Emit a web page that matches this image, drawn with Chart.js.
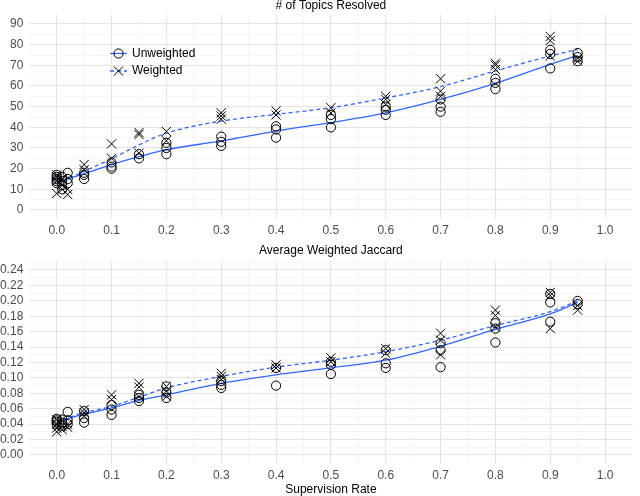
<!DOCTYPE html>
<html><head><meta charset="utf-8">
<script src="https://cdn.jsdelivr.net/npm/chart.js@4/dist/chart.umd.min.js"></script>
<style>
html,body{margin:0;padding:0;background:#fff;}
#wrap{position:relative;width:640px;height:496px;overflow:hidden;}
.c{position:absolute;left:0;width:640px;}
</style></head><body>
<div id="wrap">
<div class="c" style="top:0;height:240px"><canvas id="topChart"></canvas></div>
<div class="c" style="top:240px;height:256px"><canvas id="botChart"></canvas></div>
</div>
<script>
// ---- data ----
const rates = [0, 0.01, 0.02, 0.05, 0.1, 0.15, 0.2, 0.3, 0.4, 0.5, 0.6, 0.7, 0.8, 0.9, 0.95];
const topicsUnweighted = [[13,14,15,16,17],[10,12,14,16],[13,15,18],[15,17,18],[20,21,23],[25,27],[27,30,32.5],[31,33,35.5],[35,39,40.5],[40,44,46],[46,48.5,50],[47.5,50,53.5],[58.5,61.5,63.5],[68.5,75.5,77.5],[72,74,76]];
const topicsWeighted = [[8,14,16,17],[10,12,15],[7.5,10],[19.5,22],[25,32],[27.5,36.5,37.5],[33.5,38],[44,45.5,47],[46,48],[47,49.5],[51,53.5,55],[55,57.5,63.5],[68,70,71],[74.5,82,84],[72,73.5]];
const jaccUnweighted = [[0.040,0.043,0.045,0.047],[0.038,0.042,0.046],[0.040,0.045,0.056],[0.042,0.048,0.057],[0.052,0.059,0.065],[0.070,0.074,0.078],[0.074,0.081,0.089],[0.087,0.091,0.096],[0.090,0.113],[0.105,0.117,0.121],[0.113,0.119,0.136],[0.114,0.136,0.145],[0.146,0.164,0.171],[0.173,0.198,0.209],[0.196,0.200]];
const jaccWeighted = [[0.030,0.035,0.040,0.046],[0.033,0.037],[0.036,0.040],[0.051,0.055,0.059],[0.072,0.078],[0.076,0.088,0.093],[0.076,0.083,0.089],[0.098,0.102,0.106],[0.113,0.117],[0.121,0.126],[0.132,0.138],[0.130,0.149,0.158],[0.166,0.181,0.188],[0.164,0.207,0.211],[0.188,0.194]];
const fitRates = [0, 0.05, 0.1, 0.15, 0.2, 0.3, 0.4, 0.5, 0.6, 0.7, 0.8, 0.9, 0.95];
const topicsFitUnweighted = [13.5, 17.5, 22, 25.8, 29.2, 33.4, 38.2, 42.3, 47, 53.5, 61.3, 70.5, 74.8];
const topicsFitWeighted = [12.5, 18.7, 24.8, 31.5, 37.2, 43, 46.3, 49.5, 54.2, 59.7, 67.3, 74.5, 77.7];
const jaccFitUnweighted = [0.043, 0.053, 0.061, 0.071, 0.078, 0.093, 0.104, 0.113, 0.123, 0.141, 0.163, 0.183, 0.198];
const jaccFitWeighted = [0.043, 0.055, 0.063, 0.075, 0.087, 0.102, 0.114, 0.123, 0.134, 0.149, 0.168, 0.186, 0.200];
const seriesNames = ['Unweighted', 'Weighted'];
const titles = ['# of Topics Resolved', 'Average Weighted Jaccard', 'Supervision Rate'];

// ---- helpers ----
const FONT = "'Liberation Sans', Arial, Helvetica, sans-serif";
Chart.defaults.font.family = FONT;
Chart.defaults.font.size = 12;
const BLUE = '#3366FF';

function pts(groups) {
  const out = [];
  groups.forEach((g, i) => g.forEach(v => out.push({x: rates[i], y: v})));
  return out;
}
function fit(ys) { return fitRates.map((x, i) => ({x: x, y: ys[i]})); }
function range(a, b, step, dec) {
  const out = []; const n = Math.round((b - a) / step);
  for (let k = 0; k <= n; k++) out.push({value: +(a + k * step).toFixed(dec)});
  return out;
}
function isMult(v, m) { return Math.abs(v / m - Math.round(v / m)) < 1e-6; }
function noPad(s) { s.paddingLeft = 0; s.paddingRight = 0; s.paddingTop = 0; s.paddingBottom = 0; }

const annot = {
  id: 'annot',
  afterDraw(chart, args, o) {
    const ctx = chart.ctx, ca = chart.chartArea;
    const cx = (ca.left + ca.right) / 2;
    ctx.save();
    ctx.fillStyle = '#000';
    ctx.font = '12px ' + FONT;
    ctx.textAlign = 'center';
    ctx.textBaseline = 'middle';
    ctx.fillText(o.title, cx, o.titleY);
    if (o.xTitle) ctx.fillText(o.xTitle, cx, o.xTitleY);
    if (o.legend) {
      const rows = [{y: 53.5, dash: [], style: 'circle', label: chart.data.datasets[2].label},
                    {y: 71, dash: [4, 3], style: 'cross', label: chart.data.datasets[3].label}];
      rows.forEach(r => {
        ctx.strokeStyle = BLUE; ctx.lineWidth = 1.3; ctx.setLineDash(r.dash);
        ctx.beginPath(); ctx.moveTo(110, r.y); ctx.lineTo(127, r.y); ctx.stroke();
        ctx.setLineDash([]);
        ctx.strokeStyle = '#000'; ctx.lineWidth = 1;
        ctx.beginPath();
        if (r.style === 'circle') { ctx.arc(118.5, r.y, 4.6, 0, Math.PI * 2); }
        else { const d = 4.6; ctx.moveTo(118.5 - d, r.y - d); ctx.lineTo(118.5 + d, r.y + d); ctx.moveTo(118.5 - d, r.y + d); ctx.lineTo(118.5 + d, r.y - d); }
        ctx.stroke();
        ctx.fillStyle = '#000'; ctx.textAlign = 'left';
        ctx.fillText(r.label, 132, r.y);
      });
    }
    ctx.restore();
  }
};

function makeChart(id, cfg) {
  const gridColor = (major) => major ? '#e4e4e4' : '#f1f1f1';
  return new Chart(document.getElementById(id), {
    type: 'scatter',
    data: {
      datasets: [
        {label: seriesNames[0] + ' pts', data: pts(cfg.unw), pointStyle: 'circle', pointRadius: 4.6, borderColor: '#000', backgroundColor: 'rgba(0,0,0,0)', borderWidth: 1, showLine: false},
        {label: seriesNames[1] + ' pts', data: pts(cfg.w), pointStyle: 'crossRot', pointRadius: 6.5, borderColor: '#000', backgroundColor: 'rgba(0,0,0,0)', borderWidth: 1, showLine: false},
        {label: seriesNames[0], data: fit(cfg.fitU), showLine: true, pointRadius: 0, borderColor: BLUE, borderWidth: 1.3, cubicInterpolationMode: 'monotone', fill: false},
        {label: seriesNames[1], data: fit(cfg.fitW), showLine: true, pointRadius: 0, borderColor: BLUE, borderWidth: 1.3, borderDash: [4, 3], cubicInterpolationMode: 'monotone', fill: false}
      ]
    },
    options: {
      responsive: true, maintainAspectRatio: false, animation: false,
      layout: {padding: {top: cfg.top, left: 0, right: -12.5, bottom: 0}},
      plugins: {legend: {display: false}, tooltip: {enabled: false},
        annot: {title: cfg.title, titleY: cfg.titleY, xTitle: cfg.xTitle, xTitleY: cfg.xTitleY, legend: cfg.legend}},
      scales: {
        x: {
          type: 'linear', min: -0.05, max: 1.05,
          afterBuildTicks: s => { s.ticks = range(0, 1, 0.05, 2); },
          afterFit: s => { s.height = cfg.xh; noPad(s); },
          border: {display: false},
          grid: {drawTicks: false, color: c => gridColor(isMult(c.tick.value, 0.1)), lineWidth: c => isMult(c.tick.value, 0.1) ? 1.1 : 0.7},
          ticks: {autoSkip: false, maxRotation: 0, padding: 4, color: '#4d4d4d', font: {size: 12},
            callback: v => isMult(v, 0.1) ? v.toFixed(1) : ''}
        },
        y: {
          type: 'linear', min: cfg.ymin, max: cfg.ymax,
          afterBuildTicks: s => { s.ticks = range(cfg.y0, cfg.y1, cfg.minorStep, 3); },
          afterFit: s => { s.width = 29.3; noPad(s); },
          border: {display: false},
          grid: {drawTicks: false, color: c => gridColor(isMult(c.tick.value, cfg.majorStep)), lineWidth: c => isMult(c.tick.value, cfg.majorStep) ? 1.1 : 0.7},
          ticks: {autoSkip: false, padding: 6, color: '#4d4d4d', font: {size: 12},
            callback: v => isMult(v, cfg.majorStep) ? v.toFixed(cfg.dec) : ''}
        }
      }
    },
    plugins: [annot]
  });
}

makeChart('topChart', {
  unw: topicsUnweighted, w: topicsWeighted, fitU: topicsFitUnweighted, fitW: topicsFitWeighted,
  top: 14.7, xh: 240 - 219.3, ymin: -4.5, ymax: 94.5, y0: 0, y1: 90, minorStep: 5, majorStep: 10, dec: 0,
  title: titles[0], titleY: 5.5, legend: true
});
makeChart('botChart', {
  unw: jaccUnweighted, w: jaccWeighted, fitU: jaccFitUnweighted, fitW: jaccFitWeighted,
  top: 20.8, xh: 256 - 224.25, ymin: -0.012, ymax: 0.252, y0: 0, y1: 0.25, minorStep: 0.01, majorStep: 0.02, dec: 2,
  title: titles[1], titleY: 10.5, xTitle: titles[2], xTitleY: 250, legend: false
});
</script>
</body></html>
